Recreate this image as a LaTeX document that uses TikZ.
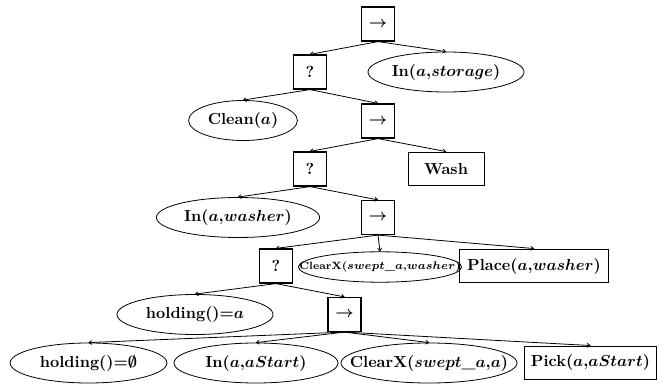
\documentclass[tikz,border=0pt]{standalone}
\usepackage{amsmath}
\usepackage{amssymb}
\usetikzlibrary{shapes.geometric}
\usetikzlibrary{arrows.meta}

\begin{document}
\begin{tikzpicture}[x=0.625pt, y=-0.625pt,
  every node/.style={font=\bfseries\boldmath, inner sep=0pt},
  ctrl/.style={draw, line width=0.8pt, minimum width=20.6pt, minimum height=21.2pt},
  act/.style={draw, line width=0.6pt, minimum height=21.2pt},
  cond/.style={draw, ellipse, line width=0.5pt, minimum height=25pt},
  squeeze/.style={inner xsep=-20pt},
  edge/.style={-{To[length=2.2pt, width=2.8pt]}, line width=0.5pt}]
\useasboundingbox (0,0) rectangle (665,384);

% control nodes
\node[ctrl] (root) at (378,24) {$\rightarrow$};
\node[ctrl] (fb1) at (310,72) {?};
\node[ctrl] (seq2) at (378,121) {$\rightarrow$};
\node[ctrl] (fb3) at (310,169) {?};
\node[ctrl] (seq4) at (378,217.5) {$\rightarrow$};
\node[ctrl] (fb5) at (276,266) {?};
\node[ctrl] (seq6) at (344.5,314.5) {$\rightarrow$};

% conditions
\node[cond, minimum width=97.5pt] (inStorage) at (446,72) {In($a$,$storage$)};
\node[cond, minimum width=68pt] (clean) at (243,120.5) {Clean($a$)};
\node[cond, minimum width=102pt] (inWasher) at (238,217.5) {In($a$,$washer$)};
\node[cond, squeeze, minimum width=102pt, minimum height=19pt,
  font=\fontsize{6.6}{8}\selectfont\bfseries\boldmath] (clearWasher) at (380,267) {ClearX($swept\_a$,$washer$)};
\node[cond, minimum width=97.5pt] (holdA) at (195,314.5) {holding()=$a$};
\node[cond, minimum width=98pt] (holdNone) at (88.5,363) {holding()=$\emptyset$};
\node[cond, minimum width=102.5pt] (inStart) at (256,363) {In($a$,$aStart$)};
\node[cond, squeeze, minimum width=110pt] (clearA) at (429,363) {ClearX($swept\_a$,$a$)};

% actions
\node[act, minimum width=47.5pt] (wash) at (446,169) {Wash};
\node[act, minimum width=93.7pt] (place) at (534,266) {Place($a$,$washer$)};
\node[act, minimum width=83pt, minimum height=20.6pt] (pick) at (590.5,362.5) {Pick($a$,$aStart$)};

\foreach \p/\c in {root/fb1, root/inStorage, fb1/clean, fb1/seq2, seq2/fb3, seq2/wash,
  fb3/inWasher, fb3/seq4, seq4/fb5, seq4/clearWasher, seq4/place, fb5/holdA, fb5/seq6,
  seq6/holdNone, seq6/inStart, seq6/clearA, seq6/pick}
  \draw[edge] (\p.south) -- (\c.north);
\end{tikzpicture}
\end{document}
